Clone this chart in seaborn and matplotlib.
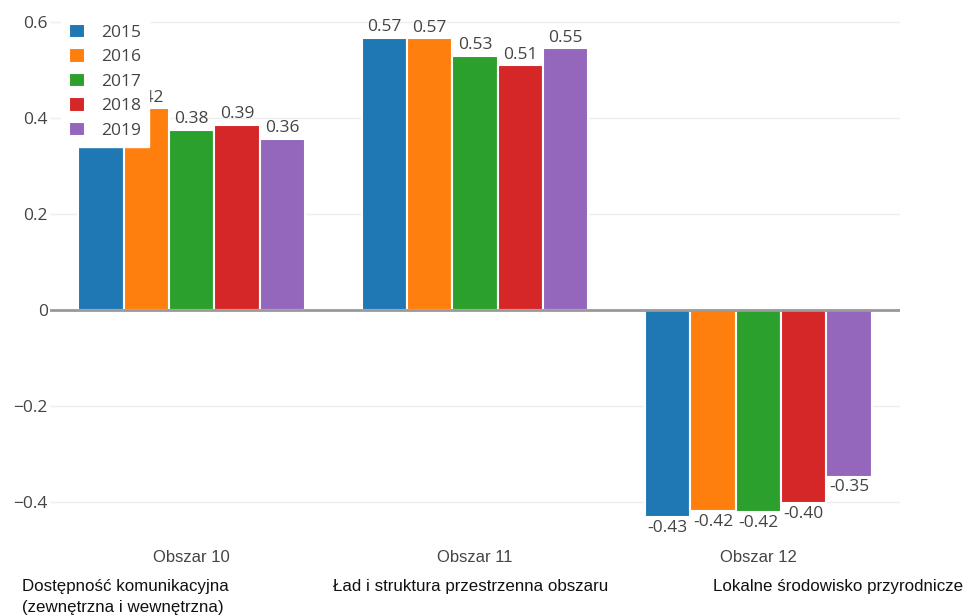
import matplotlib.pyplot as plt
import seaborn as sns
import pandas as pd
from matplotlib.ticker import FuncFormatter

# values (2015 in Obszar 10 is hidden by the legend, estimated)
categories = ["Obszar 10", "Obszar 11", "Obszar 12"]
years = ["2015", "2016", "2017", "2018", "2019"]
v2015 = [0.40, 0.567, -0.431]
v2016 = [0.42, 0.566, -0.419]
v2017 = [0.376, 0.53, -0.421]
v2018 = [0.386, 0.51, -0.402]
v2019 = [0.357, 0.545, -0.347]
descriptions = ["Dostępność komunikacyjna\n(zewnętrzna i wewnętrzna)",
                "Ład i struktura przestrzenna obszaru",
                "Lokalne środowisko przyrodnicze"]
colors = ["#1f77b4", "#ff7f0e", "#2ca02c", "#d62728", "#9467bd"]

rows = []
for year, vals in zip(years, [v2015, v2016, v2017, v2018, v2019]):
    for cat, v in zip(categories, vals):
        rows.append({"obszar": cat, "rok": year, "wartosc": v})
df = pd.DataFrame(rows)

sns.set_style("white")
plt.rcParams['font.family'] = ['Open Sans', 'DejaVu Sans']

fig = plt.figure(figsize=(9.68, 6.15), dpi=100)
ax = fig.add_axes([0.0517, 0.1525, 0.878, 0.835])

sns.barplot(data=df, x="obszar", y="wartosc", hue="rok", palette=colors,
            order=categories, hue_order=years, width=0.8, saturation=1,
            edgecolor="white", linewidth=1.5, ax=ax, zorder=2)

for cont in ax.containers:
    ax.bar_label(cont, fmt="%.2f", padding=2, fontsize=12.5, color="#444444")

ax.set_ylim(-0.44, 0.63)
ax.set_yticks([-0.4, -0.2, 0, 0.2, 0.4, 0.6])
ax.yaxis.set_major_formatter(FuncFormatter(
    lambda v, p: "0" if abs(v) < 1e-9 else (f"{v:.1f}".replace("-", "\u2212"))))
ax.grid(axis="y", color="#eeeeee", linewidth=1, zorder=0)
ax.axhline(0, color="#999999", linewidth=2, zorder=3)
for s in ax.spines.values():
    s.set_visible(False)
ax.tick_params(axis="y", length=0, pad=1.5, labelsize=12.5, labelcolor="#444444")
ax.tick_params(axis="x", length=0, pad=21, labelsize=12, labelcolor="#444444")
for lab in ax.get_xticklabels():
    lab.set_family(['Liberation Sans Narrow', 'Liberation Sans', 'DejaVu Sans'])
ax.set_xlabel("")
ax.set_ylabel("")

leg = ax.legend(loc="upper left", bbox_to_anchor=(0.013, 0.984), frameon=True,
                fancybox=False, framealpha=1, edgecolor="white", facecolor="white",
                fontsize=12.5, handlelength=0.9, handleheight=0.9,
                handletextpad=0.95, labelspacing=0.42, borderpad=0.45,
                borderaxespad=0)
for t in leg.get_texts():
    t.set_color("#444444")
leg.set_zorder(10)

desc_x = [0.0227, 0.344, 0.737]
for x, d in zip(desc_x, descriptions):
    fig.text(x, 0.0585, d, ha="left", va="top", fontsize=12.2, color="#111111",
             family=['Liberation Sans Narrow', 'Liberation Sans', 'DejaVu Sans'],
             linespacing=1.5)

plt.savefig("out.png", dpi=100)
